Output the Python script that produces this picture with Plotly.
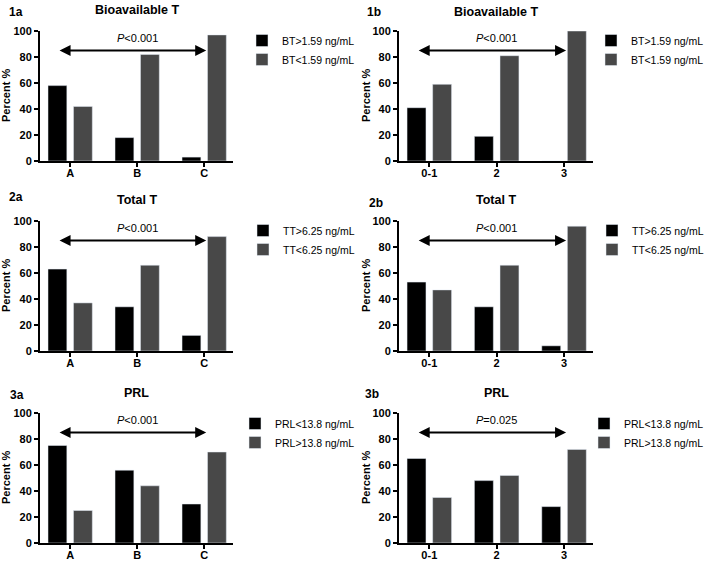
import plotly.graph_objects as go

W, H = 709, 561

GROUPS_A = ['A', 'B', 'C']
GROUPS_B = ['0-1', '2', '3']

BT_HIGH_A = [58, 18, 3]
BT_LOW_A = [42, 82, 97]
BT_HIGH_B = [41, 19, 0]
BT_LOW_B = [59, 81, 100]

TT_HIGH_A = [63, 34, 12]
TT_LOW_A = [37, 66, 88]
TT_HIGH_B = [53, 34, 4]
TT_LOW_B = [47, 66, 96]

PRL_LOW_A = [75, 56, 30]
PRL_HIGH_A = [25, 44, 70]
PRL_LOW_B = [65, 48, 28]
PRL_HIGH_B = [35, 52, 72]

BT_NAMES = ['BT>1.59 ng/mL', 'BT<1.59 ng/mL']
TT_NAMES = ['TT>6.25 ng/mL', 'TT<6.25 ng/mL']
PRL_NAMES = ['PRL<13.8 ng/mL', 'PRL>13.8 ng/mL']

TITLES = ['Bioavailable T', 'Total T', 'PRL']
P_TEXT = ['<i>P</i>&lt;0.001', '<i>P</i>&lt;0.001', '<i>P</i>&lt;0.001',
          '<i>P</i>&lt;0.001', '<i>P</i>&lt;0.001', '<i>P</i>=0.025']
LABELS = ['1a', '1b', '2a', '2b', '3a', '3b']

FONT = 'Liberation Sans'
DARK = '#000000'
GREY = '#484848'

# pixel layout (figure has zero margins, so paper == pixels)
COL_X = [(40, 233), (399, 593)]
ROW_Y = [(31, 161), (221, 351), (413, 543)]
LEGEND_RIGHT = [360, 709]
LEGEND_TOP = [26, 216, 409]
TITLE_Y = [[10, 12], [200, 200], [393, 393]]
LABEL_POS = [(7, 12), (365, 12), (7, 197), (367, 203), (8, 395), (363, 394)]
YTITLE_X = [6, 366]


def px_x(v):
    return v / W


def px_y(v):
    return 1 - v / H


panels = [
    (GROUPS_A, BT_HIGH_A, BT_LOW_A, BT_NAMES),
    (GROUPS_B, BT_HIGH_B, BT_LOW_B, BT_NAMES),
    (GROUPS_A, TT_HIGH_A, TT_LOW_A, TT_NAMES),
    (GROUPS_B, TT_HIGH_B, TT_LOW_B, TT_NAMES),
    (GROUPS_A, PRL_LOW_A, PRL_HIGH_A, PRL_NAMES),
    (GROUPS_B, PRL_LOW_B, PRL_HIGH_B, PRL_NAMES),
]

fig = go.Figure()
layout = {}
annotations = []

for i, (cats, first, second, names) in enumerate(panels):
    n = i + 1
    row, col = divmod(i, 2)
    suffix = '' if n == 1 else str(n)
    xa, ya = 'x' + suffix, 'y' + suffix
    leg = 'legend' + suffix

    fig.add_trace(go.Bar(x=cats, y=first, name=names[0], marker_color=DARK,
                         xaxis=xa, yaxis=ya, legend=leg))
    fig.add_trace(go.Bar(x=cats, y=second, name=names[1], marker_color=GREY,
                         xaxis=xa, yaxis=ya, legend=leg))

    x0, x1 = COL_X[col]
    y0, y1 = ROW_Y[row]
    layout['xaxis' + suffix] = dict(
        domain=[px_x(x0), px_x(x1)], anchor=ya, type='category',
        range=[-0.45, 2.43], showline=True, linecolor='black', linewidth=2,
        ticks='outside', ticklen=4, tickwidth=2, tickcolor='black',
        ticklabelstandoff=-3,
        showgrid=False, zeroline=False, automargin=False,
        tickfont=dict(family=FONT, size=11, color='black', weight='bold'),
    )
    layout['yaxis' + suffix] = dict(
        domain=[px_y(y1), px_y(y0)], anchor=xa, range=[0, 100],
        tickvals=[0, 20, 40, 60, 80, 100], showline=True, linecolor='black',
        linewidth=2, ticks='outside', ticklen=4, tickwidth=2, tickcolor='black',
        showgrid=False, zeroline=False, automargin=False,
        tickfont=dict(family=FONT, size=11, color='black', weight='bold'),
    )
    layout[leg] = dict(
        x=px_x(LEGEND_RIGHT[col]), y=px_y(LEGEND_TOP[row]), xanchor='right', yanchor='top',
        bgcolor='rgba(0,0,0,0)', font=dict(family=FONT, size=10.5, color='black'),
    )

    # double-headed arrow with p-value
    annotations.append(dict(
        x=2.03, y=85, ax=-0.18, ay=85, xref=xa, yref=ya, axref=xa, ayref=ya,
        text='', showarrow=True, arrowhead=2, arrowside='end+start',
        arrowsize=1.1, arrowwidth=2, arrowcolor='black', standoff=0, startstandoff=0,
    ))
    annotations.append(dict(
        x=1, y=94.5, xref=xa, yref=ya, text=P_TEXT[i], showarrow=False,
        font=dict(family=FONT, size=11, color='black'), xanchor='center', yanchor='middle',
    ))
    # panel title
    annotations.append(dict(
        x=px_x((x0 + x1) / 2), y=px_y(TITLE_Y[row][col]), xref='paper', yref='paper',
        text=TITLES[row], showarrow=False, xanchor='center', yanchor='middle',
        font=dict(family=FONT, size=12.5, color='black', weight='bold'),
    ))
    # panel label
    lx, ly = LABEL_POS[i]
    annotations.append(dict(
        x=px_x(lx), y=px_y(ly), xref='paper', yref='paper', text=LABELS[i],
        showarrow=False, xanchor='left', yanchor='middle',
        font=dict(family=FONT, size=12, color='black', weight='bold'),
    ))
    # y-axis title
    annotations.append(dict(
        x=px_x(YTITLE_X[col]), y=px_y((y0 + y1) / 2), xref='paper', yref='paper',
        text='Percent %', textangle=-90, showarrow=False,
        xanchor='center', yanchor='middle',
        font=dict(family=FONT, size=11, color='black', weight='bold'),
    ))

fig.update_layout(
    **layout,
    annotations=annotations,
    barmode='group', bargap=0.24, bargroupgap=0.26,
    width=W, height=H, margin=dict(l=0, r=0, t=0, b=0, autoexpand=False),
    plot_bgcolor='white', paper_bgcolor='white',
    font=dict(family=FONT, color='black'),
    showlegend=True,
)

# drop the default 8px page margin so the figure fills the window
fig.write_html(
    "out.html",
    config={'displayModeBar': False},
    post_script="document.body.style.margin='0';document.body.style.overflow='hidden';",
)
